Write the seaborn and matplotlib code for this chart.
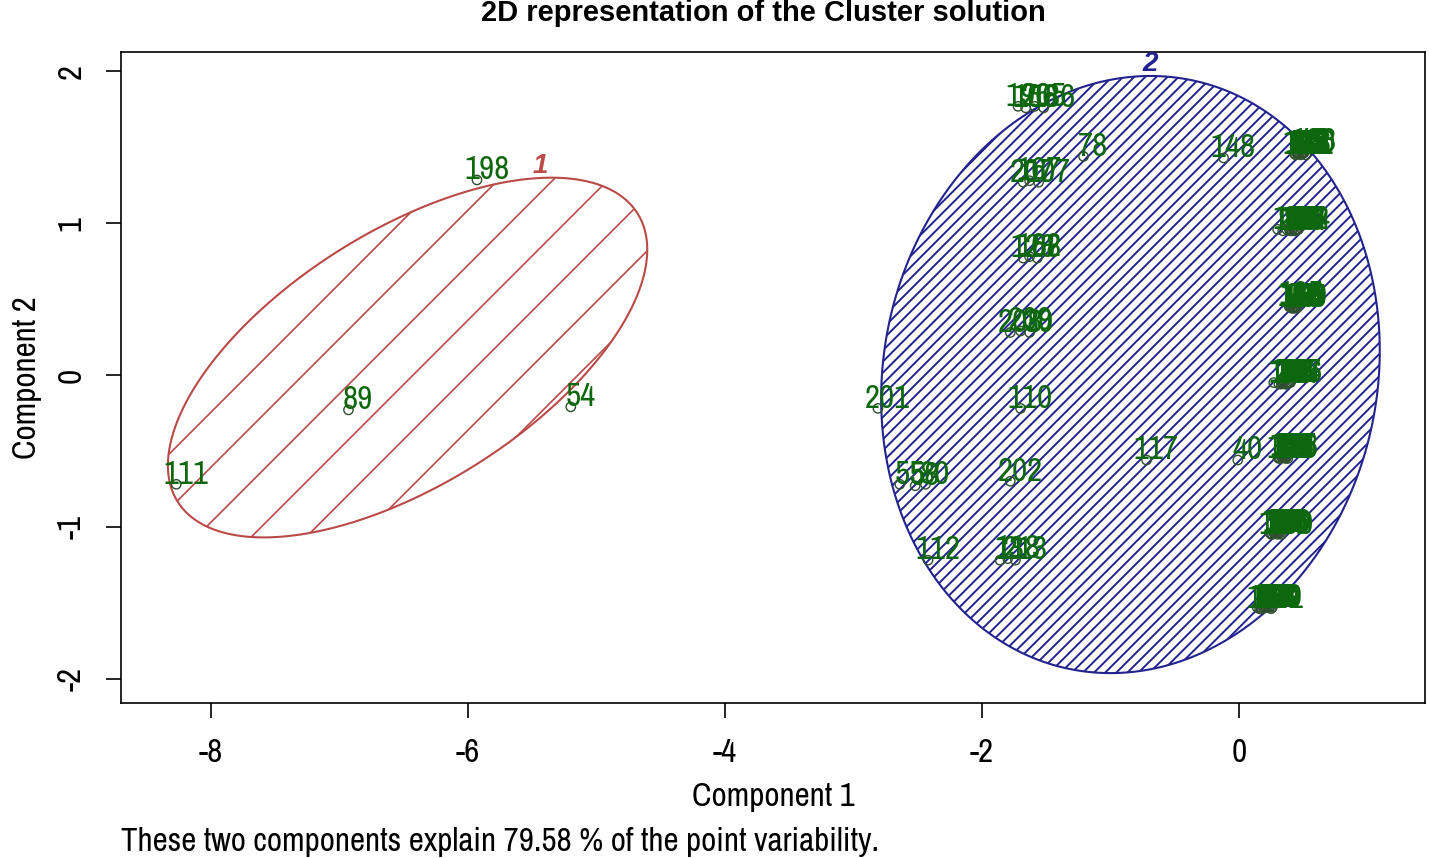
import numpy as np
import pandas as pd
import seaborn as sns
import matplotlib.pyplot as plt
from matplotlib.patches import Polygon

# cluster 1 (red ellipse)
c1_lab = ["198", "89", "54", "111"]
c1_x = [-5.93, -6.93, -5.20, -8.27]
c1_y = [1.285, -0.23, -0.21, -0.72]

# cluster 2, scattered points
c2_lab = ["196", "166", "205", "186", "78", "148", "207", "167", "107",
          "128", "162", "68", "208", "209", "30", "201", "110", "117", "40",
          "55", "58", "80", "202", "112", "13", "118", "213"]
c2_x = [-1.72, -1.66, -1.59, -1.52, -1.21, -0.12, -1.68, -1.63, -1.56,
        -1.68, -1.63, -1.57, -1.78, -1.70, -1.63, -2.81, -1.70, -0.72, -0.01,
        -2.64, -2.52, -2.44, -1.78, -2.42, -1.86, -1.80, -1.74]
c2_y = [1.77, 1.76, 1.77, 1.76, 1.44, 1.43, 1.27, 1.28, 1.27,
        0.77, 0.78, 0.77, 0.28, 0.29, 0.28, -0.22, -0.22, -0.56, -0.56,
        -0.72, -0.73, -0.72, -0.70, -1.22, -1.22, -1.21, -1.22]

# cluster 2, stacked points on the right side (labels overplot into blocks)
r1_lab = ["3", "14", "127", "133", "45", "161", "72", "95", "103", "121", "137", "150"]
r1_x = [0.43, 0.45, 0.44, 0.47, 0.50, 0.46, 0.52, 0.49, 0.51, 0.48, 0.45, 0.50]
r1_y = [1.46, 1.47, 1.45, 1.46, 1.47, 1.46, 1.45, 1.46, 1.47, 1.45, 1.46, 1.46]
r2_lab = ["12", "22", "134", "46", "152", "73", "184", "96", "104", "122", "138", "57"]
r2_x = [0.30, 0.34, 0.37, 0.40, 0.42, 0.44, 0.46, 0.39, 0.43, 0.45, 0.41, 0.46]
r2_y = [0.96, 0.95, 0.96, 0.95, 0.96, 0.95, 0.96, 0.96, 0.95, 0.96, 0.95, 0.96]
r3_lab = ["4", "23", "135", "47", "153", "74", "185", "97", "105", "123", "139", "59"]
r3_x = [0.39, 0.41, 0.40, 0.43, 0.42, 0.44, 0.41, 0.45, 0.43, 0.40, 0.44, 0.45]
r3_y = [0.45, 0.44, 0.45, 0.45, 0.44, 0.45, 0.46, 0.45, 0.44, 0.45, 0.45, 0.44]
r4_lab = ["1", "24", "136", "48", "154", "75", "187", "98", "106", "124", "140", "61"]
r4_x = [0.27, 0.31, 0.33, 0.35, 0.37, 0.34, 0.39, 0.36, 0.40, 0.38, 0.33, 0.39]
r4_y = [-0.05, -0.06, -0.05, -0.05, -0.06, -0.05, -0.05, -0.06, -0.05, -0.05, -0.06, -0.05]
r5_lab = ["5", "25", "141", "49", "155", "76", "188", "99", "108", "125", "142", "62"]
r5_x = [0.30, 0.32, 0.34, 0.33, 0.36, 0.35, 0.37, 0.38, 0.34, 0.36, 0.31, 0.37]
r5_y = [-0.54, -0.55, -0.54, -0.54, -0.55, -0.54, -0.54, -0.55, -0.54, -0.54, -0.55, -0.54]
r6_lab = ["6", "26", "143", "50", "156", "77", "189", "100", "109", "126", "144", "63"]
r6_x = [0.24, 0.26, 0.28, 0.27, 0.30, 0.29, 0.31, 0.33, 0.28, 0.30, 0.25, 0.32]
r6_y = [-1.04, -1.05, -1.04, -1.04, -1.05, -1.04, -1.04, -1.05, -1.04, -1.04, -1.05, -1.04]
r7_lab = ["7", "28", "145", "51", "157", "79", "190", "101", "113", "129", "146", "64"]
r7_x = [0.14, 0.17, 0.19, 0.21, 0.18, 0.23, 0.22, 0.25, 0.20, 0.24, 0.16, 0.26]
r7_y = [-1.53, -1.54, -1.53, -1.53, -1.54, -1.53, -1.53, -1.54, -1.53, -1.53, -1.54, -1.53]

# ellipses: center, half extents, correlation
ell1 = dict(cx=-6.47, cy=0.115, hx=1.865, hy=1.185, rho=0.60)
ell2 = dict(cx=-0.845, cy=0.003, hx=1.94, hy=1.967, rho=0.08)

xticks = [-8, -6, -4, -2, 0]
yticks = [-2, -1, 0, 1, 2]

RED = "#b94a48"
BLUE = "#23238f"
GREEN = "#0d680d"
NARROW = ["Archivo Narrow", "Liberation Sans", "DejaVu Sans"]

rows = [(c1_lab, c1_x, c1_y, 1), (c2_lab, c2_x, c2_y, 2),
        (r1_lab, r1_x, r1_y, 2), (r2_lab, r2_x, r2_y, 2), (r3_lab, r3_x, r3_y, 2),
        (r4_lab, r4_x, r4_y, 2), (r5_lab, r5_x, r5_y, 2), (r6_lab, r6_x, r6_y, 2),
        (r7_lab, r7_x, r7_y, 2)]
df = pd.concat([pd.DataFrame({"lab": l, "pc1": x, "pc2": y, "clus": c}) for l, x, y, c in rows],
               ignore_index=True)

sns.set_style("white")
plt.rcParams['font.family'] = NARROW
plt.rcParams['axes.unicode_minus'] = False
plt.rcParams['hatch.linewidth'] = 1.4

fig = plt.figure(figsize=(14.29, 8.58), dpi=100)
ax = fig.add_axes([121 / 1429, 1 - 703 / 858, 1304 / 1429, 651 / 858])


def ellipse_xy(e, n=300):
    t = np.linspace(0, 2 * np.pi, n)
    x = e["cx"] + e["hx"] * np.cos(t)
    y = e["cy"] + e["hy"] * (e["rho"] * np.cos(t) + np.sqrt(1 - e["rho"] ** 2) * np.sin(t))
    return np.column_stack([x, y])


# blue ellipse, dense hatch
p2 = Polygon(ellipse_xy(ell2), closed=True, facecolor="white", edgecolor=BLUE,
             hatch="///", lw=1.5, zorder=1)
ax.add_patch(p2)

# red ellipse, sparse shading lines
p1 = Polygon(ellipse_xy(ell1), closed=True, facecolor="none", edgecolor=RED, lw=1.5, zorder=2)
ax.add_patch(p1)
xs = np.array([-9.0, -4.0])
for k in range(-2, 12):
    ln, = ax.plot(xs, 0.847 * xs + 6.893 - 0.3624 * k, color=RED, lw=1.2, zorder=2)
    ln.set_clip_path(p1)

# cluster numbers at the top of each ellipse
for e, num, col, dx in [(ell1, "1", RED, -0.09), (ell2, "2", BLUE, 0.0)]:
    ax.text(e["cx"] + e["hx"] * e["rho"] + dx, e["cy"] + e["hy"] - 0.01, num, color=col,
            fontsize=20, fontweight="bold", fontstyle="italic", ha="center", va="bottom",
            family=["Liberation Sans", "DejaVu Sans"], zorder=4)

sns.scatterplot(data=df, x="pc1", y="pc2", marker="o", s=45, facecolor="none",
                edgecolor="#2f4f2f", linewidth=1.0, legend=False, ax=ax, zorder=3)

pt_labels = []
for _, r in df.iterrows():
    pt_labels.append(ax.annotate(r["lab"], (r["pc1"], r["pc2"]), xytext=(7, 7),
                                 textcoords="offset points", ha="center", va="center",
                                 color=GREEN, fontsize=22, zorder=5))

ax.set_xlim(-8.70, 1.447)
ax.set_ylim(-2.161, 2.128)
ax.set_xticks(xticks)
ax.set_yticks(yticks)
ax.set_xticklabels([str(v) for v in xticks])
ax.set_yticklabels([str(v) for v in yticks], rotation=90, va="center")
ax.tick_params(bottom=True, left=True, direction="out", length=11, width=1.2,
               pad=14, labelsize=22, colors="black")
for s in ax.spines.values():
    s.set_color("black")
    s.set_linewidth(1.2)

ax.set_xlabel("Component 1", fontsize=22, labelpad=10, color="black")
ax.set_ylabel("Component 2", fontsize=22, labelpad=10, color="black")

fig.text(763 / 1429, 1 - 13 / 858, "2D representation of the Cluster solution",
         ha="center", va="center", fontsize=21, fontweight="bold",
         family=["Liberation Sans", "DejaVu Sans"], color="black")
cap = fig.text(121 / 1429, 1 - 842 / 858,
               "These two components explain 79.58 % of the point variability.",
               ha="left", va="center", fontsize=22, color="black")

# scale the narrow text so the caption spans the same width as in the original
fig.canvas.draw()
k = 758 / cap.get_window_extent(fig.canvas.get_renderer()).width
cap.set_fontsize(22 * k)
ax.xaxis.label.set_fontsize(22 * k)
ax.yaxis.label.set_fontsize(22 * k)
ax.tick_params(labelsize=22 * k)
for t in pt_labels:
    t.set_fontsize(22 * k)

fig.savefig("out.png", dpi=100)
